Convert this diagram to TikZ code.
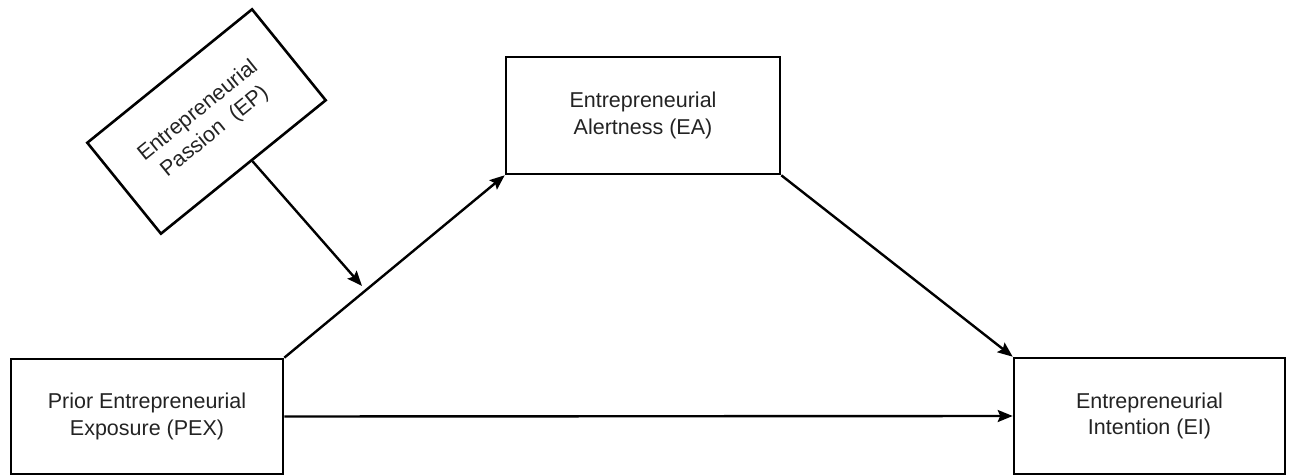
\documentclass[tikz,border=0pt]{standalone}
\usepackage{fontspec}
\setmainfont{Liberation Sans}
\usetikzlibrary{arrows.meta,calc}
\definecolor{txt}{RGB}{35,35,35}
\tikzset{
  boxnode/.style={draw=black, line width=2.6pt, inner sep=0pt, align=center,
    text=txt, font=\fontsize{21.5}{26.5}\selectfont},
  conn/.style={line width=2.4pt, -{Stealth[length=15pt,width=12pt,inset=2.5pt]}}
}
\begin{document}
\begin{tikzpicture}[x=1pt,y=-1pt]
\useasboundingbox (0,0) rectangle (1294,476);
\node[boxnode, minimum width=272pt, minimum height=115pt] (pex) at (147,416.5) {Prior Entrepreneurial\\Exposure (PEX)};
\node[boxnode, minimum width=274pt, minimum height=117pt] (ea) at (643,115.5) {Entrepreneurial\\Alertness (EA)};
\node[boxnode, minimum width=271pt, minimum height=116pt] (ei) at (1149.5,416) {Entrepreneurial\\Intention (EI)};
\node[boxnode, minimum width=212pt, minimum height=117pt, rotate=39] (ep) at (206.5,121.5) {Entrepreneurial\\Passion\ \ (EP)};
\coordinate (mod) at (362,286);
\draw[conn] (pex.north east) -- (ea.south west);
\draw[conn] (ea.south east) -- (ei.north west);
\draw[conn] (pex.east) -- (ei.west);
\draw[conn] ($(ep.south west)!0.55!(ep.south east)$) -- (mod);
\end{tikzpicture}
\end{document}
